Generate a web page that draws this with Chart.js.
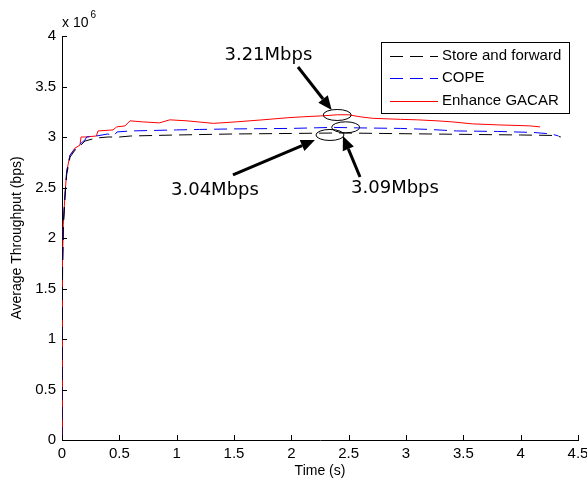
<!DOCTYPE html>
<html>
<head>
<meta charset="utf-8">
<script src="https://cdn.jsdelivr.net/npm/chart.js@4"></script>
<style>
  html, body { margin: 0; padding: 0; background: #fff; }
  #wrap { width: 587px; height: 480px; }
</style>
</head>
<body>
<div id="wrap"><canvas id="c" width="587" height="480"></canvas></div>
<script>
// ---- Data (throughput in units of 10^6 bps, time in s) ----
const sfTime   = [0, 0.002, 0.005, 0.011, 0.026, 0.041, 0.07, 0.113, 0.157, 0.2, 0.3, 0.4, 0.5, 0.6, 1.0, 1.5, 2.0, 2.4, 2.8, 3.2, 3.6, 4.0, 4.3, 4.35];
const sfValues = [0, 1.0, 1.7, 2.1, 2.4, 2.63, 2.8, 2.87, 2.91, 2.96, 2.99, 3.0, 3.0, 3.01, 3.02, 3.03, 3.035, 3.04, 3.035, 3.03, 3.025, 3.02, 3.015, 3.0];

const copeTime   = [0, 0.002, 0.005, 0.011, 0.026, 0.041, 0.07, 0.113, 0.157, 0.2, 0.215, 0.3, 0.4, 0.45, 0.48, 0.6, 0.8, 1.0, 1.2, 1.5, 2.0, 2.36, 2.6, 2.95, 3.2, 3.44, 3.8, 4.11, 4.27, 4.33];
const copeValues = [0, 1.0, 1.7, 2.13, 2.43, 2.66, 2.82, 2.88, 2.93, 2.97, 3.0, 3.01, 3.03, 3.01, 3.05, 3.06, 3.065, 3.07, 3.075, 3.08, 3.085, 3.095, 3.09, 3.085, 3.075, 3.06, 3.055, 3.045, 3.03, 3.01];

const gacarTime   = [0, 0.002, 0.005, 0.011, 0.026, 0.041, 0.07, 0.113, 0.157, 0.166, 0.2, 0.3, 0.314, 0.445, 0.477, 0.55, 0.593, 0.7, 0.85, 0.94, 1.09, 1.32, 1.52, 1.75, 1.96, 2.1, 2.28, 2.4, 2.5, 2.6, 2.71, 2.95, 3.1, 3.27, 3.4, 3.58, 3.8, 4.08, 4.17];
const gacarValues = [0, 1.0, 1.7, 2.13, 2.43, 2.66, 2.82, 2.89, 2.92, 3.0, 3.0, 3.01, 3.06, 3.07, 3.10, 3.11, 3.16, 3.15, 3.14, 3.17, 3.16, 3.135, 3.15, 3.17, 3.19, 3.2, 3.21, 3.22, 3.22, 3.2, 3.185, 3.175, 3.17, 3.16, 3.15, 3.13, 3.12, 3.11, 3.10];

const seriesLabels = ['Store and forward', 'COPE', 'Enhance GACAR'];
const xTicks = [0, 0.5, 1, 1.5, 2, 2.5, 3, 3.5, 4, 4.5];
const yTicks = [0, 0.5, 1, 1.5, 2, 2.5, 3, 3.5, 4];

// Annotations (data coordinates)
const annoTexts = [
  { text: '3.21Mbps', t: 1.80, v: 3.81 },
  { text: '3.04Mbps', t: 1.334, v: 2.475 },
  { text: '3.09Mbps', t: 2.904, v: 2.495 }
];
const annoEllipses = [
  { t: 2.40, v: 3.218 },
  { t: 2.474, v: 3.096 },
  { t: 2.337, v: 3.02 }
];
const annoArrows = [
  { t0: 2.058, v0: 3.693, t1: 2.352, v1: 3.267 },
  { t0: 1.491, v0: 2.624, t1: 2.206, v1: 2.970 },
  { t0: 2.599, v0: 2.604, t1: 2.45,  v1: 3.01 }
];

const zip = (xs, ys) => xs.map((x, i) => ({ x: x, y: ys[i] }));

const FONT = "'Liberation Sans', Arial, sans-serif";

const decorPlugin = {
  id: 'decor',
  afterDatasetsDraw(chart) {
    const ctx = chart.ctx;
    const xs = chart.scales.x, ys = chart.scales.y;
    ctx.save();
    // inward ticks
    ctx.strokeStyle = '#000';
    ctx.lineWidth = 1;
    ctx.beginPath();
    xTicks.forEach(t => {
      const px = Math.round(xs.getPixelForValue(t)) + 0.5;
      ctx.moveTo(px, ys.bottom);
      ctx.lineTo(px, ys.bottom - 5);
    });
    yTicks.forEach(v => {
      const py = Math.round(ys.getPixelForValue(v)) + 0.5;
      ctx.moveTo(xs.left, py);
      ctx.lineTo(xs.left + 5, py);
    });
    ctx.stroke();

    // x 10^6 multiplier
    ctx.fillStyle = '#000';
    ctx.textBaseline = 'alphabetic';
    ctx.textAlign = 'left';
    ctx.font = '14px ' + FONT;
    ctx.fillText('x 10', xs.left, 27);
    const w = ctx.measureText('x 10').width;
    ctx.font = '10px ' + FONT;
    ctx.fillText('6', xs.left + w + 2, 18);

    // ellipses
    ctx.lineWidth = 1;
    annoEllipses.forEach(e => {
      ctx.beginPath();
      ctx.ellipse(xs.getPixelForValue(e.t), ys.getPixelForValue(e.v), 14, 5.5, 0, 0, Math.PI * 2);
      ctx.stroke();
    });

    // arrows
    annoArrows.forEach(a => {
      const x0 = xs.getPixelForValue(a.t0), y0 = ys.getPixelForValue(a.v0);
      const x1 = xs.getPixelForValue(a.t1), y1 = ys.getPixelForValue(a.v1);
      const ang = Math.atan2(y1 - y0, x1 - x0);
      const headLen = 14, headW = 6;
      const bx = x1 - headLen * Math.cos(ang), by = y1 - headLen * Math.sin(ang);
      ctx.lineWidth = 3;
      ctx.beginPath();
      ctx.moveTo(x0, y0);
      ctx.lineTo(bx, by);
      ctx.stroke();
      ctx.beginPath();
      ctx.moveTo(x1, y1);
      ctx.lineTo(bx + headW * Math.sin(ang), by - headW * Math.cos(ang));
      ctx.lineTo(bx - headW * Math.sin(ang), by + headW * Math.cos(ang));
      ctx.closePath();
      ctx.fill();
    });

    // annotation texts
    ctx.font = "18px 'DejaVu Sans', Verdana, sans-serif";
    ctx.textAlign = 'center';
    ctx.textBaseline = 'middle';
    annoTexts.forEach(a => {
      ctx.fillText(a.text, xs.getPixelForValue(a.t), ys.getPixelForValue(a.v));
    });

    // legend box
    const lx = 381, ly = 42, lw = 188, lh = 71;
    ctx.fillStyle = '#fff';
    ctx.fillRect(lx, ly, lw, lh);
    ctx.strokeStyle = '#000';
    ctx.lineWidth = 1;
    ctx.strokeRect(lx + 0.5, ly + 0.5, lw, lh);
    ctx.font = '15px ' + FONT;
    ctx.textAlign = 'left';
    ctx.textBaseline = 'middle';
    chart.data.datasets.forEach((ds, i) => {
      const yy = ly + 13.5 + i * 22.5;
      ctx.strokeStyle = ds.borderColor;
      ctx.lineWidth = 1;
      ctx.setLineDash(ds.borderDash || []);
      ctx.beginPath();
      ctx.moveTo(390, Math.round(yy) + 0.5);
      ctx.lineTo(438, Math.round(yy) + 0.5);
      ctx.stroke();
      ctx.setLineDash([]);
      ctx.fillStyle = '#000';
      ctx.fillText(ds.label, 442, yy);
    });
    ctx.restore();
  }
};

new Chart(document.getElementById('c'), {
  type: 'line',
  data: {
    datasets: [
      { label: seriesLabels[0], data: zip(sfTime, sfValues), borderColor: '#000000', borderDash: [13, 7], borderWidth: 1, pointRadius: 0, tension: 0, fill: false },
      { label: seriesLabels[1], data: zip(copeTime, copeValues), borderColor: '#0000ff', borderDash: [13, 7], borderWidth: 1, pointRadius: 0, tension: 0, fill: false },
      { label: seriesLabels[2], data: zip(gacarTime, gacarValues), borderColor: '#ff0000', borderWidth: 1, pointRadius: 0, tension: 0, fill: false }
    ]
  },
  options: {
    responsive: false,
    animation: false,
    events: [],
    layout: { padding: { left: 0, right: 9, top: 36, bottom: 0 } },
    plugins: { legend: { display: false }, tooltip: { enabled: false } },
    scales: {
      x: {
        type: 'linear', min: 0, max: 4.5,
        afterBuildTicks: s => { s.ticks = xTicks.map(v => ({ value: v })); },
        afterFit: s => { s.height = 40; s.paddingLeft = 0; s.paddingRight = 0; },
        grid: { display: false, drawTicks: false },
        border: { display: true, color: '#000', width: 1 },
        ticks: { color: '#000', padding: 5, font: { family: FONT, size: 15 }, maxRotation: 0, autoSkip: false,
                 callback: v => String(v) },
        title: { display: true, text: 'Time (s)', color: '#000', font: { family: FONT, size: 14 }, padding: { top: 0, bottom: 0 } }
      },
      y: {
        type: 'linear', min: 0, max: 4,
        afterBuildTicks: s => { s.ticks = yTicks.map(v => ({ value: v })); },
        afterFit: s => { s.width = 62; s.paddingTop = 0; s.paddingBottom = 0; },
        grid: { display: false, drawTicks: false },
        border: { display: true, color: '#000', width: 1 },
        ticks: { color: '#000', padding: 6, font: { family: FONT, size: 15 }, autoSkip: false,
                 callback: v => String(v) },
        title: { display: true, text: 'Average Throughput (bps)', color: '#000', font: { family: FONT, size: 14 }, padding: { top: 9, bottom: 0 } }
      }
    }
  },
  plugins: [decorPlugin]
});
</script>
</body>
</html>
